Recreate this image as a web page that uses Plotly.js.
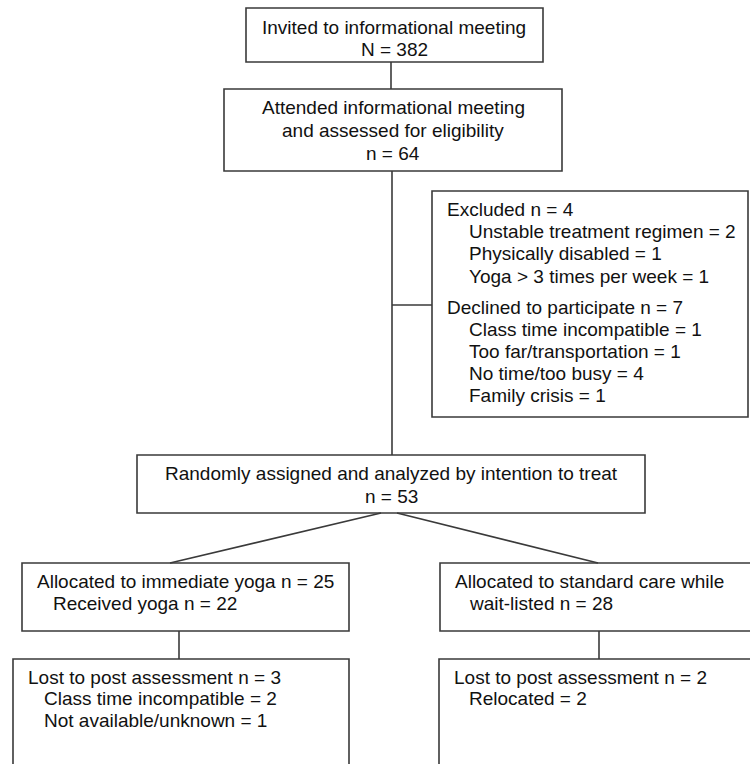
<!DOCTYPE html>
<html>
<head>
<meta charset="utf-8">
<script src="https://cdn.plot.ly/plotly-3.0.1.min.js"></script>
<style>html,body{margin:0;padding:0;background:#fff;}#chart{width:750px;height:764px;}</style>
</head>
<body>
<div id="chart"></div>
<script>
// ---- Flow diagram content ----
var invitedLines = ["Invited to informational meeting", "N = 382"];
var attendedLines = ["Attended informational meeting", "and assessed for eligibility", "n = 64"];
var excludedHead = "Excluded n = 4";
var excludedItems = ["Unstable treatment regimen = 2", "Physically disabled = 1", "Yoga > 3 times per week = 1"];
var declinedHead = "Declined to participate n = 7";
var declinedItems = ["Class time incompatible = 1", "Too far/transportation = 1", "No time/too busy = 4", "Family crisis = 1"];
var randomLines = ["Randomly assigned and analyzed by intention to treat", "n = 53"];
var yogaHead = "Allocated to immediate yoga n = 25";
var yogaItems = ["Received yoga n = 22"];
var careHead = "Allocated to standard care while";
var careItems = ["wait-listed n = 28"];
var lostYogaHead = "Lost to post assessment n = 3";
var lostYogaItems = ["Class time incompatible = 2", "Not available/unknown = 1"];
var lostCareHead = "Lost to post assessment n = 2";
var lostCareItems = ["Relocated = 2"];

// ---- Layout geometry (pixel space) ----
var boxes = [
  [246, 8, 543, 62],
  [224, 89, 562, 171],
  [432, 191, 748, 417],
  [137, 455, 645, 513],
  [22, 563, 349, 631],
  [440, 563, 753, 631],
  [13, 659, 349, 775],
  [439, 659, 753, 775]
];
var connectors = [
  [391, 62, 391, 89],
  [392, 171, 392, 455],
  [392, 305, 432, 305],
  [381, 513, 170, 563],
  [397, 513, 598, 563],
  [179, 631, 179, 659],
  [599, 631, 599, 659]
];

var lineCol = '#3a3a3a';
var txtCol = '#111111';
var fontFam = 'Liberation Sans, Arial, sans-serif';
var fs = 19;

var shapes = [];
boxes.forEach(function(b){
  shapes.push({type:'rect', xref:'x', yref:'y', x0:b[0], y0:b[1], x1:b[2], y1:b[3],
    line:{color:lineCol, width:1.6}, fillcolor:'rgba(0,0,0,0)'});
});
connectors.forEach(function(c){
  shapes.push({type:'line', xref:'x', yref:'y', x0:c[0], y0:c[1], x1:c[2], y1:c[3],
    line:{color:lineCol, width:1.6}});
});

var annotations = [];
function addText(t, x, y, anchor){
  annotations.push({text:t, x:x, y:y, xref:'x', yref:'y', showarrow:false,
    xanchor:anchor, yanchor:'middle', font:{family:fontFam, size:fs, color:txtCol}});
}
function centered(lines, cx, ys){
  lines.forEach(function(t,i){ addText(t, cx, ys[i], 'center'); });
}
function listed(head, items, xh, xi, yh, ys){
  addText(head, xh, yh, 'left');
  items.forEach(function(t,i){ addText(t, xi, ys[i], 'left'); });
}

centered(invitedLines, 394, [27, 49]);
centered(attendedLines, 393, [107, 130, 153]);
listed(excludedHead, excludedItems, 445, 467, 209, [231, 253, 276]);
listed(declinedHead, declinedItems, 445, 467, 307, [329, 351, 373, 395]);
centered(randomLines, 391, [473, 496]);
listed(yogaHead, yogaItems, 35, 51, 581, [603]);
listed(careHead, careItems, 453, 467, 581, [603]);
listed(lostYogaHead, lostYogaItems, 26, 42, 677, [698, 720]);
listed(lostCareHead, lostCareItems, 452, 467, 677, [698]);

var layout = {
  width: 750, height: 764,
  margin: {l:0, r:0, t:0, b:0},
  paper_bgcolor: '#ffffff', plot_bgcolor: '#ffffff',
  xaxis: {range:[0, 750], visible:false, fixedrange:true},
  yaxis: {range:[764, 0], visible:false, fixedrange:true},
  shapes: shapes,
  annotations: annotations,
  showlegend: false
};

Plotly.newPlot('chart', [], layout, {displayModeBar:false, staticPlot:true});
</script>
</body>
</html>
